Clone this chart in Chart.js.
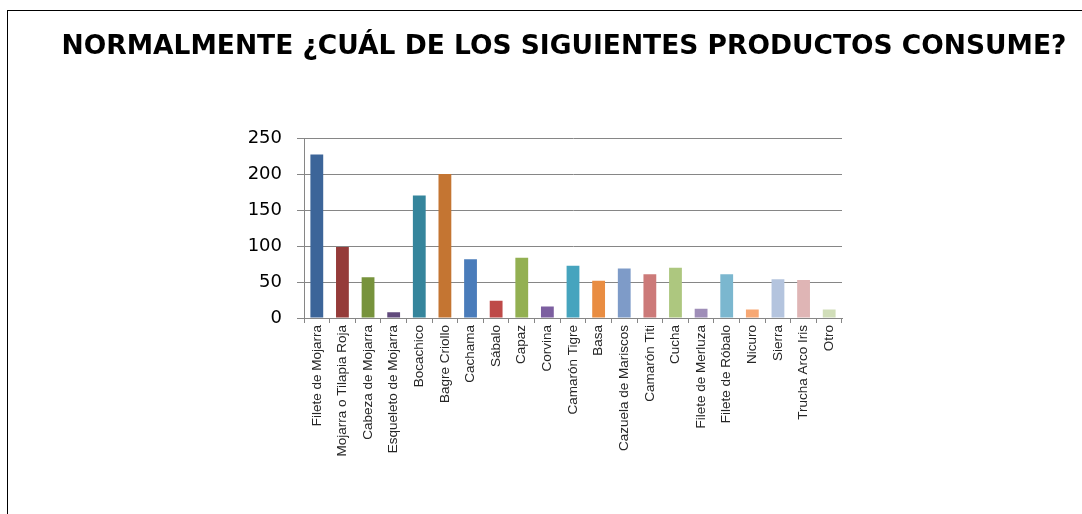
<!DOCTYPE html>
<html>
<head>
<meta charset="utf-8">
<script src="https://cdn.jsdelivr.net/npm/chart.js@4/dist/chart.umd.min.js"></script>
<style>
  html, body { margin: 0; padding: 0; background: #fff; overflow: hidden; }
  #frame {
    position: absolute; left: 7px; top: 10px;
    width: 1112px; height: 503px;
    border-left: 1px solid #000; border-top: 1px solid #000;
  }
</style>
</head>
<body>
<div id="frame"><canvas id="products-chart" width="1112" height="503"></canvas></div>
<script>
const productLabels = [
  'Filete de Mojarra', 'Mojarra o Tilapia Roja', 'Cabeza de Mojarra', 'Esqueleto de Mojarra',
  'Bocachico', 'Bagre Criollo', 'Cachama', 'Sábalo', 'Capaz', 'Corvina', 'Camarón Tigre',
  'Basa', 'Cazuela de Mariscos', 'Camarón Titi', 'Cucha', 'Filete de Merluza',
  'Filete de Róbalo', 'Nicuro', 'Sierra', 'Trucha Arco Iris', 'Otro'
];
const productCounts = [228, 99, 57, 8, 171, 201, 82, 24, 84, 16, 73, 52, 69, 61, 70, 13, 61, 12, 54, 53, 12];
const barColors = [
  '#3c6599', '#953b39', '#77933c', '#614a7c', '#35859c', '#c47532', '#4a7cba',
  '#be4a48', '#93b052', '#7c5fa0', '#46a4be', '#e98d42', '#7e9bc8', '#cc7a79',
  '#adc77f', '#9f8eb8', '#7bb7cf', '#f7a874', '#b4c4de', '#dfb5b5', '#d1deb9'
];
const yTicks = [0, 50, 100, 150, 200, 250];

const ctx = document.getElementById('products-chart');

// layout padding would squeeze the title (it gets maxWidth), so the plot is
// pushed in with fixed axis widths instead, plus an empty axis on the right
let productsChart = new Chart(ctx, {
  type: 'bar',
  data: {
    labels: productLabels,
    datasets: [{
      label: 'Consumo',
      data: productCounts,
      backgroundColor: barColors,
      categoryPercentage: 1,
      barPercentage: 0.5
    }]
  },
  options: {
    responsive: false,
    animation: false,
    layout: { padding: 0 },
    plugins: {
      legend: { display: false },
      tooltip: { enabled: false },
      title: {
        display: true,
        text: 'NORMALMENTE ¿CUÁL DE LOS SIGUIENTES PRODUCTOS CONSUME?',
        color: '#000',
        font: { family: "'DejaVu Sans', sans-serif", size: 26.5, weight: 'bold' },
        padding: { top: 20, bottom: 76 }
      }
    },
    scales: {
      x: {
        afterFit: (scale) => { scale.height = 196; },
        border: { color: '#868686' },
        grid: { drawOnChartArea: false, tickLength: 5, color: '#868686' },
        ticks: {
          autoSkip: false,
          minRotation: 90,
          maxRotation: 90,
          padding: 2,
          color: '#262626',
          font: { family: "'Liberation Sans', Arial, sans-serif", size: 13.5 }
        }
      },
      y: {
        min: 0,
        max: yTicks[yTicks.length - 1],
        afterFit: (scale) => { scale.width = 296; },
        afterBuildTicks: (scale) => { scale.ticks = yTicks.map(v => ({ value: v })); },
        border: { color: '#868686' },
        grid: { color: '#868686', tickLength: 7 },
        ticks: {
          padding: 15,
          color: '#000',
          font: { family: "'DejaVu Sans', sans-serif", size: 18 }
        }
      },
      spacer: {
        position: 'right',
        afterFit: (scale) => { scale.width = 278; },
        border: { display: false },
        grid: { display: false },
        ticks: { display: false }
      }
    }
  }
});
</script>
</body>
</html>
